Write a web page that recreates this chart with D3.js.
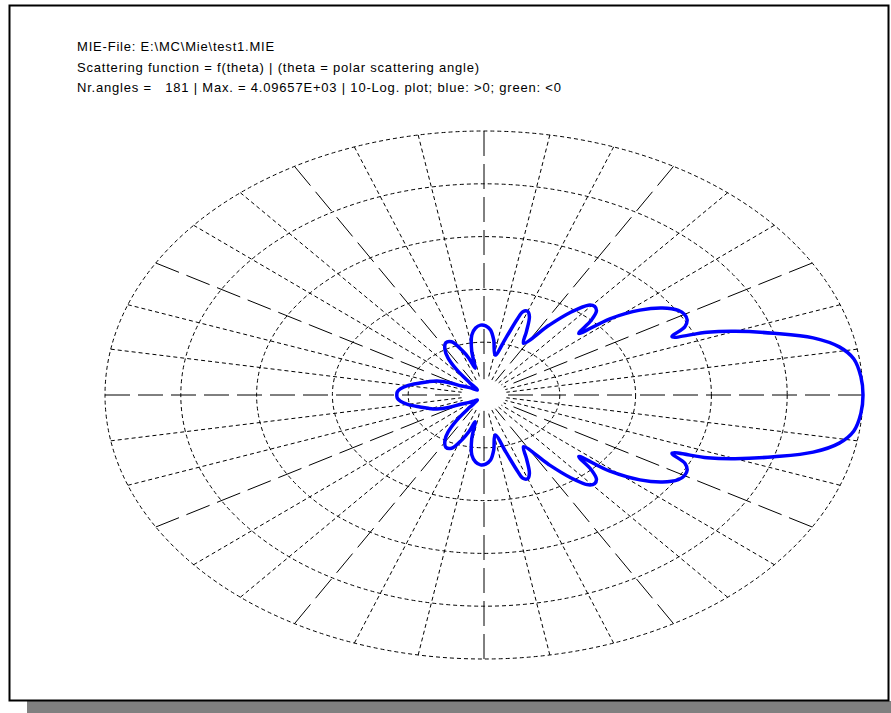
<!DOCTYPE html>
<html>
<head>
<meta charset="utf-8">
<script src="https://cdn.jsdelivr.net/npm/d3@7/dist/d3.min.js"></script>
<style>
  html, body { margin: 0; padding: 0; background: #ffffff; }
  svg { display: block; }
  text { font-family: "Liberation Sans", Arial, sans-serif; font-size: 13px; letter-spacing: 0.8px; fill: #000; white-space: pre; }
</style>
</head>
<body>
<svg id="chart" width="891" height="713"></svg>
<script>
// Header lines of the plot
const headerLines = [
  "MIE-File: E:\\MC\\Mie\\test1.MIE",
  "Scattering function = f(theta) | (theta = polar scattering angle)",
  "Nr.angles =   181 | Max. = 4.09657E+03 | 10-Log. plot; blue: >0; green: <0"
];

// Scattering angle (degrees, 0..180) and scattering function value
const thetaDeg = [0, 4, 8, 11, 14, 17, 20, 22, 24, 26, 28, 30, 32, 35, 38, 41, 43,
  45, 47, 49, 51, 54, 57, 62, 65, 68, 70, 72, 73, 75, 79, 83, 86, 89, 92, 95, 98,
  101, 103, 106, 109, 113, 117, 121, 124, 127, 129, 131, 134, 140, 145, 150, 153,
  157, 161, 165, 170, 174, 177, 180];
const scatterF = [4096.57, 3990, 3615, 2817, 1711, 776, 352, 197, 91.5, 135, 156, 161, 153, 119, 76.9, 38.9, 17.2,
  27.9, 37.3, 40.5, 38.2, 24.6, 13.7, 6.34, 9.06, 14.3, 16.5, 15.8, 12.1, 6.50, 3.60, 5.74, 7.80, 8.84, 9.06, 8.34, 6.78,
  4.11, 2.38, 3.34, 4.47, 6.18, 6.34, 5.28, 4.11, 2.69, 1.65, 1.26, 1.24, 1.36, 1.52, 1.76, 2.39,
  3.07, 3.63, 4.29, 5.50, 6.34, 6.72, 6.78];

// Grid: ring fractions of the log range and radial spoke angles
const ringFractions = [0.2, 0.4, 0.6, 0.8, 1.0];
const spokeAngles = d3.range(0, 360, 10);
const majorSpokeStep = 30;

const svg = d3.select("#chart");

// Frame with drop shadow
svg.append("rect").attr("x", 27).attr("y", 701).attr("width", 864).attr("height", 12).attr("fill", "#808080");
svg.append("rect").attr("x", 9.5).attr("y", 5.5).attr("width", 879).attr("height", 695)
  .attr("fill", "#fff").attr("stroke", "#000").attr("stroke-width", 2);

// Header text
svg.selectAll("text.hdr").data(headerLines).join("text")
  .attr("class", "hdr")
  .attr("x", 77)
  .attr("y", (d, i) => 51 + i * 20.5)
  .text(d => d);

// Elliptical polar frame
const cx = 484, cy = 395, rx = 379, ry = 264;
const xScale = d3.scaleLinear().domain([-1, 1]).range([cx - rx, cx + rx]);
const yScale = d3.scaleLinear().domain([-1, 1]).range([cy + ry, cy - ry]);
const rScale = d3.scaleLog().domain([1, 4096.57]).range([0, 1]);
const rad = d => d * Math.PI / 180;

const grid = svg.append("g").attr("fill", "none").attr("stroke", "#000");

grid.selectAll("ellipse").data(ringFractions).join("ellipse")
  .attr("cx", xScale(0)).attr("cy", yScale(0))
  .attr("rx", f => xScale(f) - xScale(0))
  .attr("ry", f => yScale(0) - yScale(f))
  .attr("stroke-width", 1)
  .attr("stroke-dasharray", "4,3");

const innerFrac = 0.06;
grid.selectAll("line").data(spokeAngles).join("line")
  .attr("x1", a => xScale(Math.cos(rad(a))))
  .attr("y1", a => yScale(Math.sin(rad(a))))
  .attr("x2", a => xScale(innerFrac * Math.cos(rad(a))))
  .attr("y2", a => yScale(innerFrac * Math.sin(rad(a))))
  .attr("stroke-width", 1)
  .attr("stroke-dasharray", a => a % majorSpokeStep === 0 ? "25,8" : "4,3");

// Scattering curve: upper half 0..180, lower half mirrored
const upper = thetaDeg.map((t, i) => ({ t: t, f: scatterF[i] }));
const lower = upper.slice(1, -1).reverse().map(d => ({ t: -d.t, f: d.f }));
const pts = upper.concat(lower);

const line = d3.line()
  .x(d => xScale(rScale(d.f) * Math.cos(rad(d.t))))
  .y(d => yScale(rScale(d.f) * Math.sin(rad(d.t))))
  .curve(d3.curveCatmullRomClosed.alpha(0.5));

svg.append("path")
  .datum(pts)
  .attr("d", line)
  .attr("fill", "none")
  .attr("stroke", "#0000ff")
  .attr("stroke-width", 3.5)
  .attr("stroke-linejoin", "round");
</script>
</body>
</html>
